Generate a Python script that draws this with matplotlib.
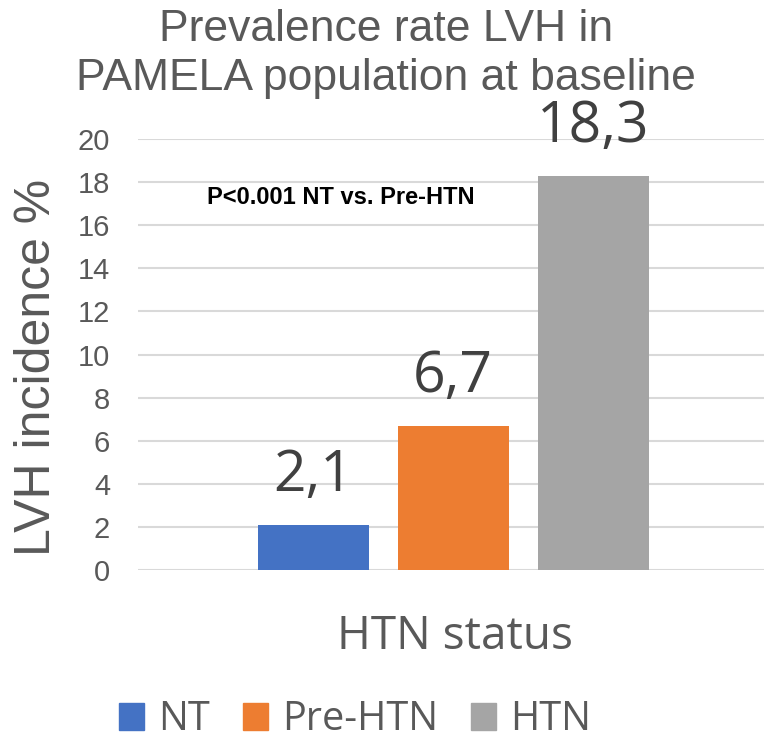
import matplotlib
matplotlib.use("Agg")
import matplotlib.pyplot as plt
from matplotlib.patches import Patch

categories = ["NT", "Pre-HTN", "HTN"]
values = [2.1, 6.7, 18.3]
value_labels = ["2,1", "6,7", "18,3"]
colors = ["#4472C4", "#ED7D31", "#A5A5A5"]
yticks = [0, 2, 4, 6, 8, 10, 12, 14, 16, 18, 20]

W, H = 764, 744
fig = plt.figure(figsize=(W/100, H/100), dpi=100)
ax = fig.add_axes([138/W, (H-570)/H, (764-138)/W, (570-139)/H])

x = [-1, 0, 1]
ax.bar(x, values, width=0.793, color=colors, zorder=3)
ax.set_xlim(-2.25, 2.22)
ax.set_ylim(0, 20)
ax.set_yticks(yticks)
ax.set_yticklabels([str(t) for t in yticks], fontsize=21, color="#595959", family="Liberation Sans")
ax.tick_params(axis="y", length=0, pad=20)
ax.set_xticks([])
ax.grid(axis="y", color="#D9D9D9", linewidth=1.5, zorder=0)
for s in ax.spines.values():
    s.set_visible(False)

for xi, v, lab in zip(x, values, value_labels):
    ax.text(xi, v + 2.25, lab, ha="center", va="center", fontsize=41, color="#404040", family="Open Sans")

ax.text(-1.757, 17.3, "P<0.001 NT vs. Pre-HTN", fontsize=17, fontweight="bold", color="black",
        family="Liberation Sans", ha="left", va="center")

fig.text(386/W, 1 - 54/H, "Prevalence rate LVH in\nPAMELA population at baseline", ha="center", va="center",
         fontsize=32, color="#595959", family="Liberation Sans", linespacing=1.25)

fig.text(37/W, 1 - 367/H, "LVH incidence %", rotation=90, ha="center", va="center",
         fontsize=36, color="#595959", family="Liberation Sans")

fig.text(455/W, 1 - 637/H, "HTN status", ha="center", va="center", fontsize=33, color="#595959", family="Open Sans")

handles = [Patch(color=c) for c in colors]
fig.legend(handles, categories, loc="center", bbox_to_anchor=(355/W, 1 - 720/H), ncol=3, frameon=False,
           prop={"family": "Open Sans", "size": 28.5}, labelcolor="#595959", handlelength=0.65, handleheight=0.65,
           handletextpad=0.35, columnspacing=0.82)

fig.savefig("out.png", dpi=100)
